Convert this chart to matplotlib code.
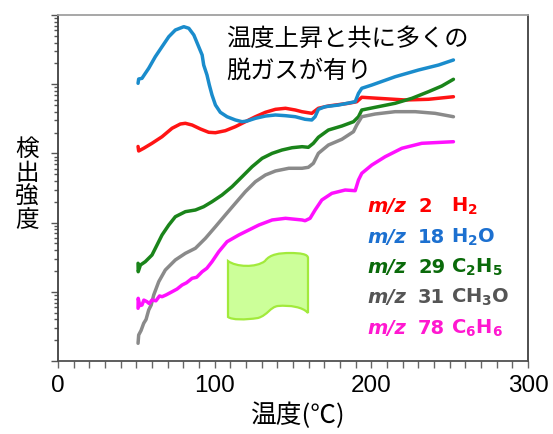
import numpy as np
import matplotlib
matplotlib.use("Agg")
import matplotlib.pyplot as plt
from matplotlib.path import Path
from matplotlib.patches import PathPatch
from matplotlib.transforms import Affine2D
from matplotlib.ticker import FixedLocator, LogLocator, NullFormatter

plt.rcParams['font.family'] = ['Noto Sans CJK JP', 'DejaVu Sans']

# ---- data: temperature (deg C) and log10 of ion current (A) ----
t_h2 = [51.1, 51.5, 54.7, 60.0, 66.4, 72.8, 78.1, 81.3, 85.6, 90.9, 96.2, 100.5,
        106.8, 113.2, 119.6, 126.0, 132.4, 138.8, 145.2, 151.5, 155.6, 162.0,
        166.2, 172.6, 185.4, 190.7, 193.9, 204.5, 221.6, 236.5, 252.4]
log_h2 = [-9.900, -9.965, -9.926, -9.854, -9.759, -9.637, -9.575, -9.565, -9.590,
          -9.647, -9.695, -9.701, -9.672, -9.614, -9.542, -9.470, -9.406, -9.363,
          -9.348, -9.373, -9.397, -9.421, -9.348, -9.315, -9.276, -9.253, -9.189,
          -9.204, -9.228, -9.218, -9.181]

t_h2o = [51.1, 51.5, 53.6, 57.9, 62.1, 66.4, 70.7, 74.9, 80.3, 83.5, 86.7, 89.8,
         92.0, 93.0, 95.1, 96.6, 98.3, 100.5, 103.6, 107.9, 113.2, 117.5, 120.7,
         126.0, 132.4, 138.8, 145.2, 151.5, 157.7, 162.0, 164.1, 166.2, 170.5,
         179.0, 189.7, 191.8, 193.9, 200.3, 215.2, 230.1, 242.9, 252.4]
log_h2o = [-8.987, -8.925, -8.915, -8.770, -8.603, -8.458, -8.314, -8.217, -8.169,
           -8.192, -8.289, -8.458, -8.578, -8.723, -8.867, -9.012, -9.156, -9.301,
           -9.406, -9.470, -9.517, -9.542, -9.532, -9.493, -9.460, -9.445, -9.455,
           -9.470, -9.507, -9.517, -9.470, -9.363, -9.325, -9.301, -9.253, -9.132,
           -9.059, -9.012, -8.892, -8.795, -8.723, -8.650]

t_c2h5 = [51.1, 51.2, 52.6, 55.7, 60.0, 63.2, 66.4, 70.7, 74.9, 81.3, 87.7, 93.0,
          98.3, 104.7, 111.1, 117.5, 123.9, 130.3, 136.7, 143.0, 149.4, 155.8,
          159.8, 163.0, 166.2, 172.6, 181.2, 188.6, 191.8, 193.9, 202.4, 215.2,
          225.9, 236.5, 245.0, 252.4]
log_c2h5 = [-11.588, -11.710, -11.613, -11.565, -11.468, -11.324, -11.179, -11.035,
            -10.915, -10.842, -10.818, -10.770, -10.698, -10.601, -10.481, -10.337,
            -10.192, -10.071, -9.999, -9.951, -9.918, -9.903, -9.912, -9.854,
            -9.767, -9.662, -9.604, -9.542, -9.470, -9.373, -9.334, -9.276, -9.204,
            -9.108, -9.026, -8.929]

t_ch3o = [51.1, 51.5, 53.0, 54.7, 56.2, 57.9, 59.5, 61.1, 64.3, 68.5, 74.9, 81.3,
          87.7, 94.1, 100.5, 106.8, 113.2, 119.6, 126.0, 132.4, 138.8, 147.3, 155.8,
          159.8, 163.0, 166.2, 172.6, 181.2, 188.6, 190.7, 193.9, 202.4, 215.2,
          228.0, 240.7, 252.4]
log_ch3o = [-12.744, -12.624, -12.560, -12.455, -12.400, -12.263, -12.190, -12.046,
            -11.854, -11.685, -11.540, -11.444, -11.371, -11.227, -11.059, -10.890,
            -10.721, -10.553, -10.409, -10.312, -10.254, -10.215, -10.215, -10.201,
            -10.143, -9.999, -9.879, -9.796, -9.686, -9.590, -9.470, -9.431, -9.397,
            -9.397, -9.421, -9.470]

t_c6h6 = [51.1, 51.2, 52.2, 53.6, 54.8, 56.8, 58.2, 60.0, 62.5, 64.8, 66.4, 69.0,
          72.8, 76.0, 79.2, 82.0, 85.6, 88.5, 92.0, 95.0, 98.3, 102.6, 107.9, 115.4,
          121.8, 128.2, 136.7, 145.2, 155.8, 157.7, 160.9, 164.1, 168.4, 174.8,
          183.3, 189.7, 191.8, 193.9, 200.3, 208.8, 219.5, 232.2, 252.4]
log_c6h6 = [-12.238, -12.094, -12.200, -12.191, -12.120, -12.143, -12.170, -12.118,
            -12.130, -12.060, -12.071, -12.045, -11.999, -11.960, -11.902, -11.870,
            -11.805, -11.790, -11.710, -11.660, -11.565, -11.421, -11.276, -11.179,
            -11.107, -11.035, -10.962, -10.938, -10.962, -10.973, -10.938, -10.818,
            -10.673, -10.577, -10.529, -10.539, -10.384, -10.288, -10.168, -10.048,
            -9.926, -9.854, -9.831]

series = [
    (t_h2, log_h2, '#ff1414'),
    (t_h2o, log_h2o, '#1a8ccc'),
    (t_c2h5, log_c2h5, '#1a841a'),
    (t_ch3o, log_ch3o, '#8a8a8a'),
    (t_c6h6, log_c6h6, '#ff10ff'),
]

mz_values = ['2', '18', '29', '31', '78']
formulas = [r'$\mathregular{H_2}$', r'$\mathregular{H_2O}$', r'$\mathregular{C_2H_5}$',
            r'$\mathregular{CH_3O}$', r'$\mathregular{C_6H_6}$']
label_colors = ['#ff0000', '#1c70d0', '#0a6a0a', '#555555', '#ff18d0']

x_ticks = [0, 100, 200, 300]

W, H = 553, 434
fig = plt.figure(figsize=(W / 100, H / 100), dpi=100)
ax = fig.add_axes([58 / W, 1 - 361 / H, 470 / W, 346 / H])

for t, lg, c in series:
    ax.plot(t, 10.0 ** np.array(lg), color=c, lw=2.5, solid_joinstyle='round',
            solid_capstyle='round', zorder=3)

ax.set_yscale('log')
ax.set_ylim(1e-13, 1e-8)
ax.set_xlim(0, 300)
ax.yaxis.set_major_locator(LogLocator(base=10, numticks=20))
ax.yaxis.set_minor_locator(LogLocator(base=10, subs=np.arange(2, 10), numticks=20))
ax.yaxis.set_major_formatter(NullFormatter())
ax.yaxis.set_minor_formatter(NullFormatter())
ax.xaxis.set_major_locator(FixedLocator(x_ticks))
ax.xaxis.set_minor_locator(FixedLocator(np.arange(0, 301, 10)))

ax.tick_params(axis='x', which='both', direction='out', length=5, width=1,
               color='#666666', pad=5, labelsize=17)
ax.tick_params(axis='y', which='major', direction='out', length=5, width=1,
               color='#555555')
ax.tick_params(axis='y', which='minor', direction='out', length=3, width=1,
               color='#555555')
ax.set_xticks(x_ticks)
ax.set_xticklabels([str(v) for v in x_ticks], family='Liberation Sans', fontsize=17.5)

for side, col in [('left', '#404040'), ('right', '#404040'),
                  ('bottom', '#505050'), ('top', '#a0a0a0')]:
    ax.spines[side].set_color(col)
    ax.spines[side].set_linewidth(1.3)

# axis titles
fig.text(298 / W, 1 - 416 / H, '温度(℃)', ha='center', va='center', fontsize=18.5)
fig.text(27 / W, 1 - 185 / H, '検\n出\n強\n度', ha='center', va='center',
         fontsize=17, linespacing=1.05)

# annotation
fig.text(226 / W, 1 - 39 / H, '温度上昇と共に多くの', ha='left', va='center', fontsize=17.5)
fig.text(226 / W, 1 - 71 / H, '脱ガスが有り', ha='left', va='center', fontsize=17.5)

# legend text
base_y = [212, 243, 273, 303, 334]
for yb, mz, f, c in zip(base_y, mz_values, formulas, label_colors):
    fig.text(367 / W, 1 - yb / H, 'm/z', color=c, fontsize=14, style='italic',
             weight='bold', family='DejaVu Sans', va='baseline')
    fig.text(418 / W, 1 - yb / H, mz, color=c, fontsize=14, weight='bold',
             family='DejaVu Sans', va='baseline')
    fig.text(451 / W, 1 - yb / H, f, color=c, fontsize=14, weight='bold',
             family='DejaVu Sans', va='baseline')

# film sketch drawn in pixel coordinates
verts = [(228, 261), (236, 267), (256, 268), (265, 261),
         (270, 254), (280, 253), (290, 253),
         (300, 253), (308, 254), (308, 258),
         (308, 313),
         (303, 307), (290, 305), (278, 306),
         (270, 307), (268, 315), (258, 318),
         (245, 320), (232, 320), (228, 317),
         (228, 261)]
codes = ([Path.MOVETO] + [Path.CURVE4] * 9 + [Path.LINETO] + [Path.CURVE4] * 9
         + [Path.CLOSEPOLY])
px = Affine2D().scale(1 / W, -1 / H).translate(0, 1) + fig.transFigure
film = PathPatch(Path(verts, codes), facecolor='#ccff99', edgecolor='#a2ea3c',
                 lw=1.6, transform=px)
fig.add_artist(film)

fig.savefig('out.png', dpi=100)
